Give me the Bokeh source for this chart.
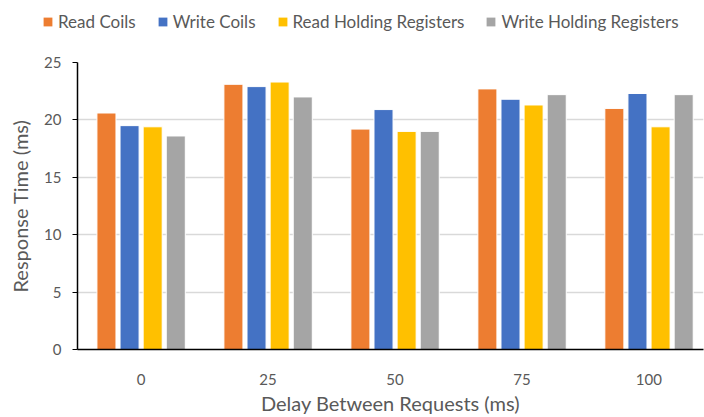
from bokeh.plotting import figure
from bokeh.layouts import column
from bokeh.models import Range1d, FixedTicker, Legend, LegendItem, ColumnDataSource
from bokeh.transform import dodge
from bokeh.embed import file_html
from bokeh.resources import INLINE

delays = ["0", "25", "50", "75", "100"]
read_coils = [20.6, 23.1, 19.2, 22.7, 21.0]
write_coils = [19.5, 22.9, 20.9, 21.8, 22.3]
read_holding = [19.4, 23.3, 19.0, 21.3, 19.4]
write_holding = [18.6, 22.0, 19.0, 22.2, 22.2]
series_names = ["Read Coils", "Write Coils", "Read Holding Registers", "Write Holding Registers"]
colors = ["#ED7D31", "#4472C4", "#FFC000", "#A5A5A5"]
y_ticks = [0, 5, 10, 15, 20, 25]

FONT = "Lato"
TXT = "#595959"

xs = list(range(len(delays)))
src = ColumnDataSource(dict(x=xs, s0=read_coils, s1=write_coils, s2=read_holding, s3=write_holding))

# ---- legend strip on top ----
lg = figure(width=704, height=40, x_range=Range1d(0, 1), y_range=Range1d(0, 1),
            output_backend="svg", toolbar_location=None,
            x_axis_location=None, y_axis_location=None,
            min_border_left=0, min_border_right=0, min_border_top=0, min_border_bottom=0)
lg.grid.visible = False
lg.outline_line_color = None
loc = (42, 8)
try:
    lg.frame_align = False
except AttributeError:
    loc = (-35, 8)
items = []
for name, col in zip(series_names, colors):
    r = lg.vbar(x=[-5], top=[0], width=0.01, fill_color=col, line_color=None)
    items.append(LegendItem(label=name, renderers=[r]))
legend = Legend(items=items, orientation="horizontal", location=loc,
                glyph_width=11, glyph_height=11, label_standoff=5, spacing=21,
                padding=0, margin=0, border_line_alpha=0, background_fill_alpha=0,
                label_text_font=FONT, label_text_font_size="17px", label_text_color=TXT)
lg.add_layout(legend, "center")

# ---- main chart ----
p = figure(width=704, height=377, x_range=Range1d(-0.5, 4.43), y_range=Range1d(0, 25),
           output_backend="svg", toolbar_location=None,
           min_border_left=77, min_border_right=1, min_border_top=22, min_border_bottom=67)

offsets = [-0.272, -0.09, 0.092, 0.274]
for i, col in enumerate(colors):
    p.vbar(x=dodge("x", offsets[i], range=p.x_range), top="s%d" % i, width=0.15,
           source=src, fill_color=col, line_color="white", line_width=1)

p.outline_line_color = None
p.xgrid.grid_line_color = None
p.ygrid.grid_line_color = "#d9d9d9"
p.ygrid.grid_line_width = 1.5

p.yaxis.ticker = FixedTicker(ticks=y_ticks)
p.yaxis.axis_line_color = "black"
p.yaxis.axis_line_width = 1.5
p.yaxis.major_tick_line_color = "black"
p.yaxis.major_tick_out = 5
p.yaxis.major_tick_in = 0
p.yaxis.minor_tick_line_color = None
p.yaxis.major_label_standoff = 11
p.yaxis.axis_label = "Response Time (ms)"
p.yaxis.axis_label_standoff = 9

p.xaxis.ticker = FixedTicker(ticks=xs)
p.xaxis.major_label_overrides = {i: d for i, d in enumerate(delays)}
p.xaxis.axis_line_color = "black"
p.xaxis.axis_line_width = 1.5
p.xaxis.major_tick_line_color = None
p.xaxis.minor_tick_line_color = None
p.xaxis.major_label_standoff = 18
p.xaxis.axis_label = "Delay Between Requests (ms)"
p.xaxis.axis_label_standoff = 3

for ax in (p.xaxis, p.yaxis):
    ax.major_label_text_font = FONT
    ax.major_label_text_font_size = "15px"
    ax.major_label_text_color = TXT
    ax.axis_label_text_font = FONT
    ax.axis_label_text_font_size = "20px"
    ax.axis_label_text_color = TXT
    ax.axis_label_text_font_style = "normal"

layout = column(lg, p, spacing=0)
open("out.html", "w").write(file_html(layout, INLINE))
